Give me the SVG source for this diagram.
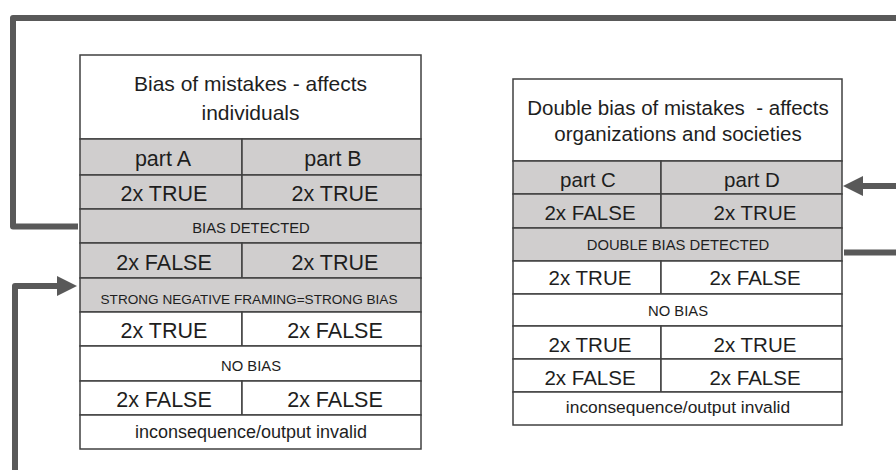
<svg xmlns="http://www.w3.org/2000/svg" width="896" height="470" viewBox="0 0 896 470">
<style>
  .cell{stroke:#404040;stroke-width:1.5}
  .g{fill:#d0cece}
  .w{fill:#ffffff}
  text{font-family:"Liberation Sans",Arial,sans-serif;fill:#1e1e1e;text-anchor:middle}
  .hd{font-size:21px}
  .hd2{font-size:20.5px}
  .big{font-size:21.5px}
  .big2{font-size:20.5px}
  .sm{font-size:14.8px}
  .xs{font-size:13.6px}
  .note{font-size:18px}
  .note2{font-size:17.4px}
  .conn{fill:none;stroke:#595959;stroke-width:6;stroke-linejoin:round}
</style>
<defs>
  <marker id="arrow" viewBox="0 0 20 20" refX="10" refY="10" markerWidth="20" markerHeight="20" markerUnits="userSpaceOnUse" orient="auto">
    <path d="M0,0 L20,10 L0,20 Z" fill="#595959"/>
  </marker>
</defs>
<rect width="896" height="470" fill="#ffffff"/>

<g id="connectors">
  <path class="conn" d="M78 226.5 H13 V18 H896"/>
  <path class="conn" d="M896 186 H853" marker-end="url(#arrow)"/>
  <path class="conn" d="M844 252.5 H896"/>
  <path class="conn" d="M15 470 V286 H67" marker-end="url(#arrow)"/>
</g>

<g id="table-left">
  <rect class="cell w" x="80" y="55" width="341" height="84"/>
  <text class="hd" x="250.5" y="91">Bias of mistakes - affects</text>
  <text class="hd" x="250.5" y="120">individuals</text>

  <rect class="cell g" x="80" y="139" width="162" height="36"/>
  <rect class="cell g" x="242" y="139" width="179" height="36"/>
  <text class="big" x="163" y="166">part A</text>
  <text class="big" x="333" y="166">part B</text>

  <rect class="cell g" x="80" y="175" width="162" height="34"/>
  <rect class="cell g" x="242" y="175" width="179" height="34"/>
  <text class="big" x="164" y="201">2x TRUE</text>
  <text class="big" x="335" y="201">2x TRUE</text>

  <rect class="cell g" x="80" y="209" width="341" height="34"/>
  <text class="sm" x="251" y="233">BIAS DETECTED</text>

  <rect class="cell g" x="80" y="243" width="162" height="35"/>
  <rect class="cell g" x="242" y="243" width="179" height="35"/>
  <text class="big" x="164" y="270">2x FALSE</text>
  <text class="big" x="335" y="270">2x TRUE</text>

  <rect class="cell g" x="80" y="278" width="341" height="34"/>
  <text class="xs" x="249" y="304">STRONG NEGATIVE FRAMING=STRONG BIAS</text>

  <rect class="cell w" x="80" y="312" width="162" height="34"/>
  <rect class="cell w" x="242" y="312" width="179" height="34"/>
  <text class="big" x="164" y="338">2x TRUE</text>
  <text class="big" x="335" y="338">2x FALSE</text>

  <rect class="cell w" x="80" y="346" width="341" height="35"/>
  <text class="sm" x="251" y="371">NO BIAS</text>

  <rect class="cell w" x="80" y="381" width="162" height="34"/>
  <rect class="cell w" x="242" y="381" width="179" height="34"/>
  <text class="big" x="164" y="407">2x FALSE</text>
  <text class="big" x="335" y="407">2x FALSE</text>

  <rect class="cell w" x="80" y="415" width="341" height="34"/>
  <text class="note" x="251" y="438">inconsequence/output invalid</text>
</g>

<g id="table-right">
  <rect class="cell w" x="513" y="79" width="329" height="82"/>
  <text class="hd2" x="678" y="115" xml:space="preserve">Double bias of mistakes  - affects</text>
  <text class="hd2" x="678" y="141">organizations and societies</text>

  <rect class="cell g" x="513" y="161" width="148" height="33"/>
  <rect class="cell g" x="661" y="161" width="181" height="33"/>
  <text class="big2" x="588" y="186.5">part C</text>
  <text class="big2" x="752" y="186.5">part D</text>

  <rect class="cell g" x="513" y="194" width="148" height="34"/>
  <rect class="cell g" x="661" y="194" width="181" height="34"/>
  <text class="big2" x="590" y="220">2x FALSE</text>
  <text class="big2" x="755" y="220">2x TRUE</text>

  <rect class="cell g" x="513" y="228" width="329" height="33"/>
  <text class="sm" x="678" y="250">DOUBLE BIAS DETECTED</text>

  <rect class="cell w" x="513" y="261" width="148" height="33"/>
  <rect class="cell w" x="661" y="261" width="181" height="33"/>
  <text class="big2" x="590" y="285">2x TRUE</text>
  <text class="big2" x="755" y="285">2x FALSE</text>

  <rect class="cell w" x="513" y="294" width="329" height="32"/>
  <text class="sm" x="678" y="316">NO BIAS</text>

  <rect class="cell w" x="513" y="326" width="148" height="33"/>
  <rect class="cell w" x="661" y="326" width="181" height="33"/>
  <text class="big2" x="590" y="352">2x TRUE</text>
  <text class="big2" x="755" y="352">2x TRUE</text>

  <rect class="cell w" x="513" y="359" width="148" height="33"/>
  <rect class="cell w" x="661" y="359" width="181" height="33"/>
  <text class="big2" x="590" y="385">2x FALSE</text>
  <text class="big2" x="755" y="385">2x FALSE</text>

  <rect class="cell w" x="513" y="392" width="329" height="33"/>
  <text class="note2" x="678" y="413">inconsequence/output invalid</text>
</g>
</svg>
